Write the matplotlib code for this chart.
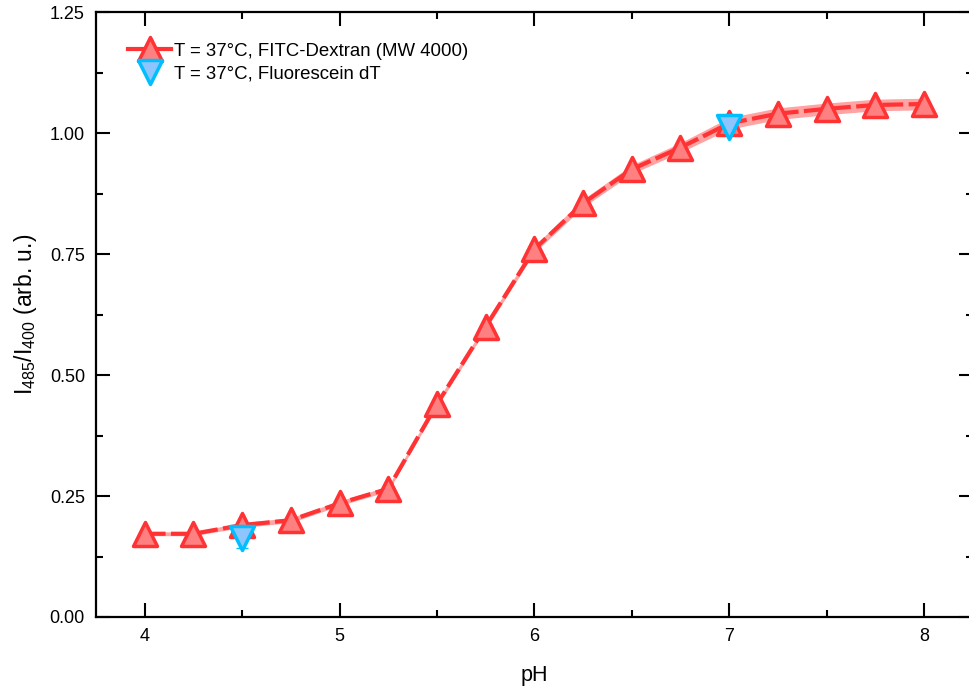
import numpy as np
import matplotlib.pyplot as plt
from matplotlib.markers import MarkerStyle
from matplotlib.ticker import MultipleLocator

plt.rcParams['font.family'] = ['Liberation Sans', 'DejaVu Sans']
plt.rcParams['mathtext.fontset'] = 'custom'
plt.rcParams['mathtext.rm'] = 'Liberation Sans'

# FITC-Dextran (MW 4000) at 37 C
ph = [4.0, 4.25, 4.5, 4.75, 5.0, 5.25, 5.5, 5.75, 6.0, 6.25, 6.5, 6.75, 7.0, 7.25, 7.5, 7.75, 8.0]
ratio = [0.172, 0.172, 0.19, 0.20, 0.235, 0.265, 0.44, 0.60, 0.76, 0.855, 0.925, 0.97, 1.02, 1.04,
         1.05, 1.058, 1.06]
ratio_err = [0.004, 0.004, 0.005, 0.005, 0.005, 0.005, 0.006, 0.006, 0.007, 0.008, 0.009, 0.010,
             0.012, 0.012, 0.012, 0.012, 0.012]

# Fluorescein dT at 37 C
ph_fl = [4.5, 7.0]
ratio_fl = [0.163, 1.012]
ratio_fl_err = [0.02, 0.01]

red = '#ff3333'
red_face = '#ff8080'
cyan = '#00bfff'
blue_face = '#8ec5ff'

up = MarkerStyle('^', joinstyle='round')
down = MarkerStyle('v', joinstyle='round')

fig = plt.figure(figsize=(9.69, 6.89), dpi=100)
ax = fig.add_axes([0.0991, 0.1045, 0.9047, 0.878])

ratio = np.array(ratio)
ratio_err = np.array(ratio_err)
ax.fill_between(ph, ratio - ratio_err, ratio + ratio_err, color='#ffa3a3', lw=0, zorder=1)
ax.plot(ph, ratio, color=red, lw=3, dashes=(5, 1.3), zorder=2)
ax.errorbar(ph, ratio, yerr=ratio_err, fmt='none', ecolor=red, elinewidth=1, capsize=3, zorder=2)
ax.plot(ph, ratio, ls='none', marker=up, ms=17, mfc=red_face, mec=red, mew=2.5, zorder=3)

ax.errorbar(ph_fl, ratio_fl, yerr=ratio_fl_err, fmt='none', ecolor=cyan, elinewidth=1.2,
            capsize=4, zorder=4)
ax.plot(ph_fl, ratio_fl, ls='none', marker=down, ms=17, mfc=blue_face, mec=cyan, mew=2.5, zorder=4)

# legend proxies
h1, = ax.plot([], [], color=red, lw=3, marker=up, ms=17, mfc=red_face, mec=red, mew=2.5)
h2, = ax.plot([], [], ls='none', marker=down, ms=17, mfc=blue_face, mec=cyan, mew=2.5)
ax.legend([h1, h2], ['T = 37°C, FITC-Dextran (MW 4000)', 'T = 37°C, Fluorescein dT'],
          loc='upper left', bbox_to_anchor=(0.024, 0.968), frameon=False, fontsize=13.4,
          handlelength=2.3, handletextpad=0.15, labelspacing=0.3, borderaxespad=0.2)

ax.set_xlim(3.75, 8.25)
ax.set_ylim(0, 1.25)
ax.xaxis.set_major_locator(MultipleLocator(1))
ax.xaxis.set_minor_locator(MultipleLocator(0.5))
ax.yaxis.set_major_locator(MultipleLocator(0.25))
ax.yaxis.set_minor_locator(MultipleLocator(0.125))
ax.yaxis.set_major_formatter(plt.FormatStrFormatter('%.2f'))
ax.tick_params(which='both', direction='in', top=True, right=True, labelsize=13, width=1.5)
ax.tick_params(which='major', length=10, pad=8)
ax.tick_params(which='minor', length=5)
for s in ax.spines.values():
    s.set_linewidth(1.6)

ax.set_xlabel('pH', fontsize=15.5, labelpad=14)
ax.set_ylabel(r'I$_{\mathregular{485}}$/I$_{\mathregular{400}}$ (arb. u.)', fontsize=16.5, labelpad=8)

fig.savefig('out.png', dpi=100)
